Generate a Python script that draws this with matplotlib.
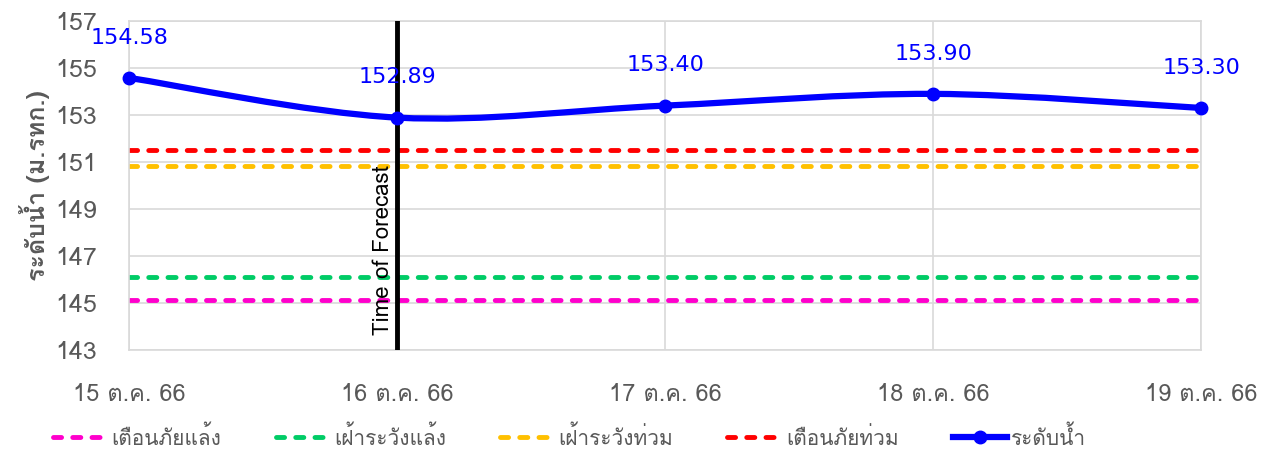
import matplotlib
matplotlib.use("Agg")
import matplotlib.pyplot as plt
from matplotlib import font_manager
from matplotlib.ft2font import FT2Font
from matplotlib.path import Path
from matplotlib.patches import PathPatch
from matplotlib.lines import Line2D
import numpy as np

# data
dates = ["15 ต.ค. 66", "16 ต.ค. 66", "17 ต.ค. 66", "18 ต.ค. 66", "19 ต.ค. 66"]
level = [154.58, 152.89, 153.40, 153.90, 153.30]
drought_warn = [145.13] * 5     # เตือนภัยแล้ง
drought_watch = [146.10] * 5    # เฝ้าระวังแล้ง
flood_watch = [150.83] * 5      # เฝ้าระวังท่วม
flood_warn = [151.50] * 5       # เตือนภัยท่วม
forecast_idx = 1

# find a font that can draw thai
thai_font = None
for f in font_manager.fontManager.ttflist:
    try:
        if 0x0E23 in FT2Font(f.fname).get_charmap():
            thai_font = f.name
            break
    except Exception:
        pass
fams = ([thai_font] if thai_font else []) + ["DejaVu Sans"]
plt.rcParams["font.family"] = fams

fig = plt.figure(figsize=(12.66, 4.5), dpi=100)
ax = fig.add_axes([0.102, 0.2222, 0.8467, 0.7311])

dash = (0, (1.66, 2.3))
x = np.arange(len(dates))
ax.plot(x, drought_warn, color="#ff00cc", lw=3.5, ls=dash, dash_capstyle="round")
ax.plot(x, drought_watch, color="#00cc66", lw=3.5, ls=dash, dash_capstyle="round")
ax.plot(x, flood_watch, color="#ffc000", lw=3.5, ls=dash, dash_capstyle="round")
ax.plot(x, flood_warn, color="#ff0000", lw=3.5, ls=dash, dash_capstyle="round")

# smooth line like excel (catmull-rom style bezier)
verts = [(x[0], level[0])]
codes = [Path.MOVETO]
t = 1 / 6
for i in range(len(x) - 1):
    p0 = (x[max(i - 1, 0)], level[max(i - 1, 0)])
    p1 = (x[i], level[i])
    p2 = (x[i + 1], level[i + 1])
    p3 = (x[min(i + 2, len(x) - 1)], level[min(i + 2, len(x) - 1)])
    c1 = (p1[0] + (p2[0] - p0[0]) * t, p1[1] + (p2[1] - p0[1]) * t)
    c2 = (p2[0] - (p3[0] - p1[0]) * t, p2[1] - (p3[1] - p1[1]) * t)
    verts += [c1, c2, p2]
    codes += [Path.CURVE4] * 3
ax.add_patch(PathPatch(Path(verts, codes), fill=False, edgecolor="#0000ff", lw=4.5, zorder=5,
                       capstyle="round", joinstyle="round", clip_on=False))
ax.plot(x, level, "o", color="#0000ff", ms=9, zorder=6, clip_on=False)

for xi, v in zip(x, level):
    ax.annotate(f"{v:.2f}", (xi, v), xytext=(0, 29), textcoords="offset points",
                ha="center", va="center", color="#0000ff", fontsize=16,
                family=["DejaVu Sans"], zorder=7, annotation_clip=False)

ax.axvline(forecast_idx, color="black", lw=3.5, zorder=4)
ax.text(forecast_idx - 0.012, 143.64, "Time of Forecast", rotation=90, ha="right", va="bottom",
        fontsize=16, color="black", zorder=4)

ax.set_xlim(0, len(dates) - 1)
ax.set_ylim(143, 157)
ax.set_yticks(np.arange(143, 158, 2))
ax.set_xticks(x)
ax.set_xticklabels(dates)
ax.grid(True, color="#d9d9d9", lw=1.2)
ax.set_axisbelow(True)
for s in ax.spines.values():
    s.set_color("#d9d9d9")
    s.set_linewidth(1.2)
ax.tick_params(length=0, labelcolor="#595959")
ax.tick_params(axis="y", labelsize=18, pad=23)
ax.tick_params(axis="x", labelsize=17, pad=24)
ax.set_ylabel("ระดับน้ำ (ม.รทก.)", fontsize=18, fontweight="bold", color="#595959", labelpad=4)

handles = [
    Line2D([], [], color="#ff00cc", lw=3.5, ls=dash, dash_capstyle="round"),
    Line2D([], [], color="#00cc66", lw=3.5, ls=dash, dash_capstyle="round"),
    Line2D([], [], color="#ffc000", lw=3.5, ls=dash, dash_capstyle="round"),
    Line2D([], [], color="#ff0000", lw=3.5, ls=dash, dash_capstyle="round"),
    Line2D([], [], color="#0000ff", lw=4.5, marker="o", ms=9),
]
labels = ["เตือนภัยแล้ง", "เฝ้าระวังแล้ง", "เฝ้าระวังท่วม", "เตือนภัยท่วม", "ระดับน้ำ"]
fig.legend(handles, labels, loc="center", bbox_to_anchor=(0.45, 0.029), ncol=5, frameon=False,
           fontsize=15, labelcolor="#595959", handlelength=2.6, handletextpad=0.2,
           columnspacing=2.6)

fig.savefig("out.png", dpi=100)
